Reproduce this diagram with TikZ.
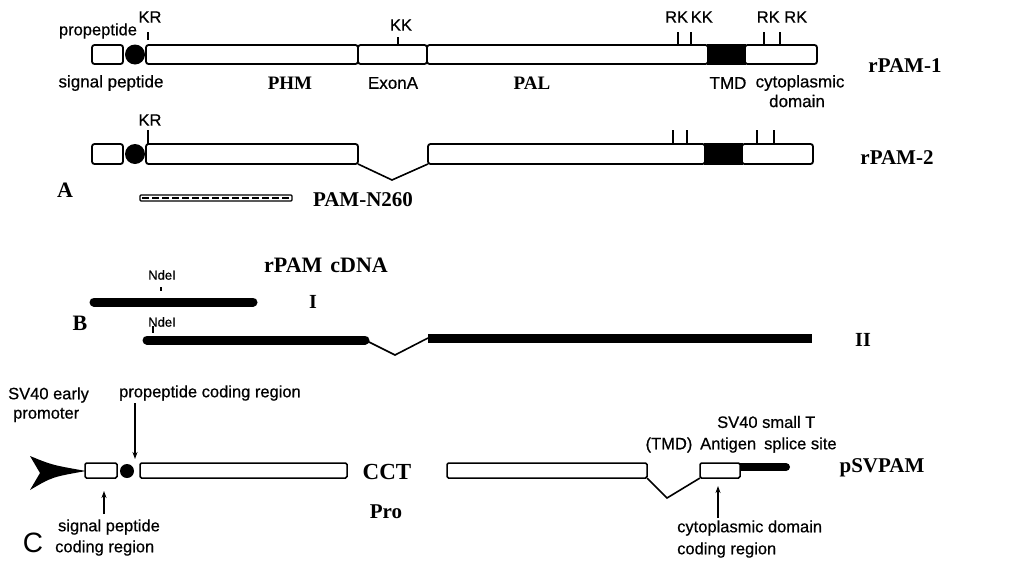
\documentclass[tikz,border=0pt]{standalone}
\usepackage{fontspec}
\setmainfont{Liberation Serif}
\setsansfont{Liberation Sans}
\newfontfamily\lblfont[FakeBold=0.6]{Liberation Sans}
\usetikzlibrary{arrows.meta}
\begin{document}
\begin{tikzpicture}[x=1pt,y=-1pt,
 seg/.style={draw, line width=1.8pt, rounded corners=2.5pt, inner sep=0, outer sep=0, minimum height=19pt, fill=white},
 blk/.style={seg, fill=black, rounded corners=0},
 dot/.style={circle, fill=black, inner sep=0, outer sep=0, minimum size=20pt},
 lab/.style={font=\lblfont\fontsize{16.5}{16.5}\selectfont, inner sep=0},
 labA/.style={font=\lblfont\fontsize{17}{17}\selectfont, inner sep=0},
 sm/.style={font=\lblfont\fontsize{13}{13}\selectfont, inner sep=0},
 big/.style={font=\bfseries\fontsize{21}{21}\selectfont, inner sep=0},
 mid/.style={font=\bfseries\fontsize{19}{19}\selectfont, inner sep=0},
 tick/.style={line width=1.3pt},
 thinl/.style={line width=1.6pt},
 arr/.style={line width=1.3pt, -{Stealth[length=7pt,width=5pt]}},
 bar/.style={line width=9pt}
]
\useasboundingbox (0,0) rectangle (1035,565);

% ---------- A: rPAM-1 ----------
\node[seg, minimum width=31pt] (p1) at (107.5,54.5) {};
\node[dot] (c1) at (135,54.5) {};
\node[seg, minimum width=212pt] (phm1) at (252,54.5) {};
\node[seg, minimum width=69pt] (ex1) at (392.5,54.5) {};
\node[seg, minimum width=281pt] (pal1) at (567.5,54.5) {};
\node[blk, minimum width=37pt] (tmd1) at (726.5,54.5) {};
\node[seg, minimum width=72pt] (cy1) at (781,54.5) {};

\draw[tick] (148,32) -- (148,40);
\draw[tick] ([xshift=5.5pt]ex1.north) -- ++(0,-8);
\draw[tick] ([xshift=110.5pt]pal1.north) -- ++(0,-13);
\draw[tick] ([xshift=123.5pt]pal1.north) -- ++(0,-13);
\draw[tick] ([xshift=-17pt]cy1.north) -- ++(0,-13);
\draw[tick] ([xshift=-1pt]cy1.north) -- ++(0,-13);

\node[lab] (kr1) at (150,17) {KR};
\node[lab] (prop1) at (98,31) {propeptide};
\node[lab] (kk1) at (401,25) {KK};
\node[lab] (rkkk1) at (689,17) {RK\,KK};
\node[lab] (rkrk1) at (782,17) {RK RK};
\node[labA] (sig1) at (111,83) {signal peptide};
\node[mid] (phmt) at (290,83) {PHM};
\node[labA] (ext) at (393,83) {ExonA};
\node[mid] (palt) at (532,83) {PAL};
\node[labA] (tmdt) at (728,83) {TMD};
\node[labA] (cyt) at (800,83) {cytoplasmic};
\node[labA] (domt) at (797,101) {domain};
\node[big] (r1) at (905,66) {rPAM-1};

% ---------- A: rPAM-2 ----------
\node[seg, minimum width=31pt, minimum height=20pt] (p2) at (107.5,154) {};
\node[dot] (c2) at (135,154) {};
\node[seg, minimum width=212pt, minimum height=20pt] (phm2) at (252,154) {};
\node[seg, minimum width=277pt, minimum height=20pt] (pal2) at (566.5,154) {};
\node[blk, minimum width=37pt, minimum height=20pt] (tmd2) at (723.5,154) {};
\node[seg, minimum width=71pt, minimum height=20pt] (cy2) at (777.5,154) {};
\coordinate (v2) at (392,180);
\draw[thinl] (phm2.south east) -- (v2) -- (pal2.south west);

\draw[tick] ([xshift=2pt]phm2.north west) -- ++(0,-14);
\draw[tick] ([xshift=106.5pt]pal2.north) -- ++(0,-14);
\draw[tick] ([xshift=120.5pt]pal2.north) -- ++(0,-14);
\draw[tick] ([xshift=-20.5pt]cy2.north) -- ++(0,-14);
\draw[tick] ([xshift=-3.5pt]cy2.north) -- ++(0,-14);

\node[lab] (kr2) at (150,120) {KR};
\node[big] (r2) at (897,158) {rPAM-2};
\node[font=\bfseries\fontsize{22}{22}\selectfont, inner sep=0] (la) at (65,190) {A};

\node[draw, line width=1.4pt, inner sep=0, minimum width=152pt, minimum height=6pt, rounded corners=1pt] (n260) at (216,198) {};
\draw[line width=1.5pt, dash pattern=on 7pt off 3pt] ([xshift=3pt]n260.west) -- ([xshift=-3pt]n260.east);
\node[big] (n260t) at (363,200) {PAM-N260};

% ---------- B ----------
\node[font=\bfseries\fontsize{22}{22}\selectfont, inner sep=0] (cdna) at (326,265) {rPAM\hspace{8pt}cDNA};
\node[sm] (nde1) at (162,275) {NdeI};
\draw[tick] (161,287) -- (161,291);
\coordinate (b1s) at (94,302);
\coordinate (b1e) at (253,302);
\draw[bar, line cap=round] (b1s) -- (b1e);
\node[font=\bfseries\fontsize{20}{20}\selectfont, inner sep=0] (one) at (313,302) {I};
\node[font=\bfseries\fontsize{22}{22}\selectfont, inner sep=0] (lb) at (80,323) {B};
\node[sm] (nde2) at (162,322) {NdeI};
\draw[tick] (153,326) -- (153,333);
\coordinate (b2s) at (147,340);
\coordinate (b2e) at (365,340);
\coordinate (b2v) at (395,355);
\coordinate (b3s) at (428,338);
\coordinate (b3e) at (812,338);
\draw[bar, line cap=round] (b2s) -- (b2e);
\draw[thinl] (b2e) -- (b2v) -- (b3s);
\draw[bar] (b3s) -- (b3e);
\node[font=\bfseries\fontsize{20}{20}\selectfont, inner sep=0] (two) at (863,340) {II};

% ---------- C ----------
\fill (30,456) .. controls (52,465) .. (86,471) .. controls (52,477) .. (30,490) -- (40,473) -- cycle;
\node[seg, minimum width=32pt, minimum height=15pt, line width=1.5pt, rounded corners=1.5pt] (sp3) at (101,470.5) {};
\node[dot, minimum size=14pt] (dot3) at (127,471) {};
\node[seg, minimum width=207pt, minimum height=15pt, line width=1.5pt, rounded corners=1.5pt] (bx3a) at (243.5,470.5) {};
\node[seg, minimum width=200pt, minimum height=15pt, line width=1.5pt, rounded corners=1.5pt] (bx3b) at (547,470.5) {};
\node[seg, minimum width=40pt, minimum height=15pt, line width=1.5pt, rounded corners=1.5pt] (bx3c) at (720,470.5) {};
\coordinate (v3) at (667,498);
\draw[thinl] (bx3b.south east) -- (v3) -- (bx3c.south west);
\coordinate (tb) at (786,467);
\draw[line width=8pt] ([yshift=3.5pt]bx3c.east) -- (tb);
\fill (tb) circle (4pt);

\node[lab, anchor=west] (sv40) at (8,395) {SV40 early};
\node[lab, anchor=west] (prom) at (13,415) {promoter};
\node[lab] (propc) at (210,393) {propeptide coding region};
\coordinate (a1s) at (135,403);
\coordinate (a1e) at (135,459);
\draw[arr] (a1s) -- (a1e);
\coordinate (a2s) at (104,514);
\coordinate (a2e) at (104,491);
\draw[arr] (a2s) -- (a2e);
\node[lab] (sigc) at (109,527) {signal peptide};
\node[lab, anchor=west] (codc) at (55,548) {coding region};
\node[font=\sffamily\fontsize{28}{28}\selectfont, inner sep=0] (lc) at (33,543) {C};
\node[font=\bfseries\fontsize{23}{23}\selectfont, inner sep=0] (cct) at (387,472) {CCT};
\node[font=\bfseries\fontsize{21}{21}\selectfont, inner sep=0] (pro) at (386,512) {Pro};
\node[lab] (tmdc) at (669,445) {(TMD)};
\node[lab, anchor=west] (svs) at (717,422) {SV40 small T};
\node[lab, anchor=west] (anti) at (700,445) {Antigen\hspace{8pt}splice site};
\node[big] (psv) at (882,468) {pSVPAM};
\coordinate (a3s) at (718,518);
\coordinate (a3e) at (718,486);
\draw[arr] (a3s) -- (a3e);
\node[lab, anchor=west] (cyc) at (677,528) {cytoplasmic domain};
\node[lab, anchor=west] (codc2) at (677,550) {coding region};
\end{tikzpicture}
\end{document}
